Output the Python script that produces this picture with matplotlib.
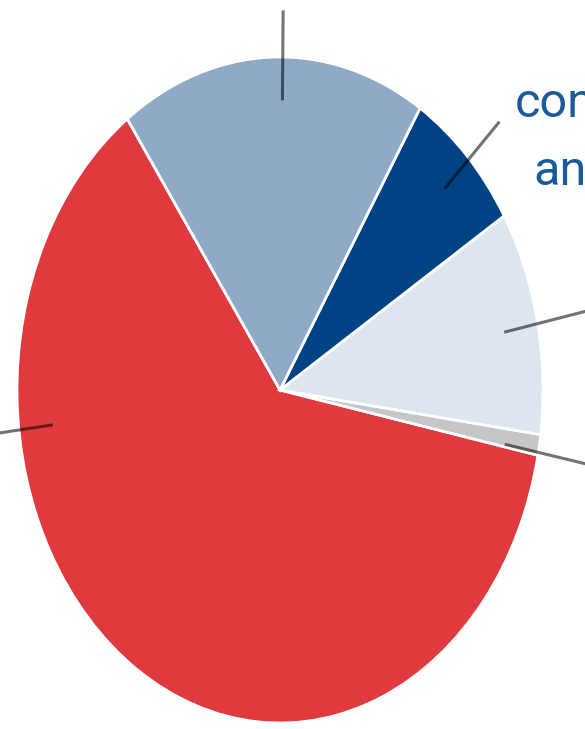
import matplotlib.pyplot as plt
import numpy as np

# slice shares (percent), drawn counter-clockwise from the red slice
shares = [62.0, 1.0, 10.9, 7.3, 18.8]
colors = ['#e0393e', '#c4c6c8', '#dde5ee', '#004385', '#8eaac6']
start_angle = 125.5
# angle (deg) where each leader line sits, and how far out it reaches
leader_angles = [186.9, -10.8, 11.5, 44.0, 89.4]
leader_outer = [1.3, 1.3, 1.3, 1.16, 1.14]
label_lines = ['con', 'an']

W, H = 585, 729
cx, cy = 280, 390      # pie centre in pixels (from top-left)
rx, ry = 263, 333      # the pie is drawn squashed to an ellipse

fig = plt.figure(figsize=(W / 100, H / 100), dpi=100)
ax = fig.add_axes([0, 0, 1, 1])

ax.pie(shares, colors=colors, startangle=start_angle, counterclock=True,
       radius=1, wedgeprops=dict(edgecolor='white', linewidth=2.0))

ax.set_aspect('auto')
ax.set_xlim(-cx / rx, (W - cx) / rx)
ax.set_ylim(-(H - cy) / ry, cy / ry)
ax.axis('off')

# leader lines
for a, r_out in zip(leader_angles, leader_outer):
    t = np.radians(a)
    r = np.array([0.87, r_out])
    ax.plot(r * np.cos(t), r * np.sin(t), color='black', alpha=0.55,
            lw=2.2, solid_capstyle='butt')

# the label text that is cut off by the crop
ax.text(0.894, 0.82, label_lines[0], color='#1a5a9c', fontsize=35,
        family='Roboto', ha='left', va='baseline')
ax.text(0.962, 0.616, label_lines[1], color='#1a5a9c', fontsize=35,
        family='Roboto', ha='left', va='baseline')

fig.savefig('out.png', dpi=100)
